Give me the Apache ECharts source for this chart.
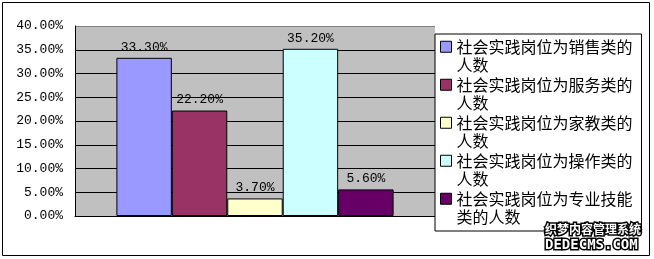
<!DOCTYPE html>
<html>
<head>
<meta charset="utf-8">
<script src="https://cdn.jsdelivr.net/npm/echarts@6/dist/echarts.min.js"></script>
<style>
html,body{margin:0;padding:0;background:#fff;}
#chart{width:654px;height:259px;}
</style>
</head>
<body>
<div id="chart"></div>
<script>
const categories = [''];
const seriesNames = [
  '社会实践岗位为销售类的人数',
  '社会实践岗位为服务类的人数',
  '社会实践岗位为家教类的人数',
  '社会实践岗位为操作类的人数',
  '社会实践岗位为专业技能类的人数'
];
const seriesValues = [0.333, 0.222, 0.037, 0.352, 0.056];
const seriesColors = ['#9999FF', '#993366', '#FFFFCC', '#CCFFFF', '#660066'];
const yMin = 0, yMax = 0.4, yInterval = 0.05;
const watermarkTitle = '织梦内容管理系统';
const watermarkUrl = 'DEDECMS.COM';

const monoFont = '"Liberation Mono", "DejaVu Sans Mono", monospace';
const cjkFont = '"Noto Sans CJK SC", sans-serif';

const chart = echarts.init(document.getElementById('chart'), null, {renderer: 'canvas'});

const splitColors = [];
for (let i = 0; i < 8; i++) splitColors.push('#000');
splitColors.push('#808080');

const series = seriesNames.map((name, i) => ({
  name: name,
  type: 'bar',
  data: [seriesValues[i]],
  barGap: '0%',
  barCategoryGap: '23%',
  itemStyle: { color: seriesColors[i], borderColor: '#000', borderWidth: 1 },
  label: {
    show: true,
    position: 'top',
    distance: 4,
    color: '#000',
    fontFamily: monoFont,
    fontSize: 13,
    formatter: p => (p.value * 100).toFixed(2) + '%'
  },
  emphasis: { disabled: true }
}));

chart.setOption({
  animation: false,
  backgroundColor: '#fff',
  grid: {
    left: 75, right: 219, top: 26, bottom: 43,
    show: true, backgroundColor: '#C0C0C0', borderWidth: 0,
    containLabel: false
  },
  xAxis: {
    type: 'category',
    data: categories,
    axisLine: { show: true, lineStyle: { color: '#000', width: 1 } },
    axisTick: { show: false },
    axisLabel: { show: false },
    splitLine: { show: false }
  },
  yAxis: {
    type: 'value',
    min: yMin, max: yMax, interval: yInterval,
    axisLine: { show: true, lineStyle: { color: '#000', width: 1 } },
    axisTick: { show: false },
    axisLabel: {
      color: '#000', fontFamily: monoFont, fontSize: 13, margin: 12,
      formatter: v => (v * 100).toFixed(2) + '%'
    },
    splitLine: { show: true, lineStyle: { color: splitColors, width: 1 } }
  },
  legend: {
    orient: 'vertical',
    left: 435, top: 34,
    itemGap: 0,
    itemWidth: 11,
    itemHeight: 37,
    icon: 'path://M0,0 M0,3.75h11v11h-11z M11,37',
    padding: [3, 9, 4, 5],
    borderColor: '#000',
    borderWidth: 1,
    backgroundColor: '#fff',
    selectedMode: false,
    itemStyle: { borderColor: '#000', borderWidth: 1 },
    textStyle: { color: '#000', fontFamily: cjkFont, fontSize: 16, lineHeight: 18.5 },
    formatter: name => name.slice(0, 11) + '\n' + name.slice(11),
    data: seriesNames
  },
  graphic: [
    {
      type: 'rect', silent: true, z: 100,
      shape: { x: 2.5, y: 2.5, width: 647, height: 253 },
      style: { fill: null, stroke: '#000', lineWidth: 1 }
    },
    {
      type: 'text', silent: true, z: 100,
      x: 545, y: 223,
      style: {
        text: watermarkTitle, fill: '#fff', stroke: '#000', lineWidth: 3,
        font: 'bold 12px "Noto Sans CJK SC", sans-serif',
        textVerticalAlign: 'top'
      }
    },
    {
      type: 'text', silent: true, z: 100,
      x: 545, y: 238,
      style: {
        text: watermarkUrl, fill: '#fff', stroke: '#000', lineWidth: 3,
        font: 'bold 14px "DejaVu Sans Mono", monospace',
        textVerticalAlign: 'top'
      }
    }
  ],
  series: series
});
</script>
</body>
</html>
